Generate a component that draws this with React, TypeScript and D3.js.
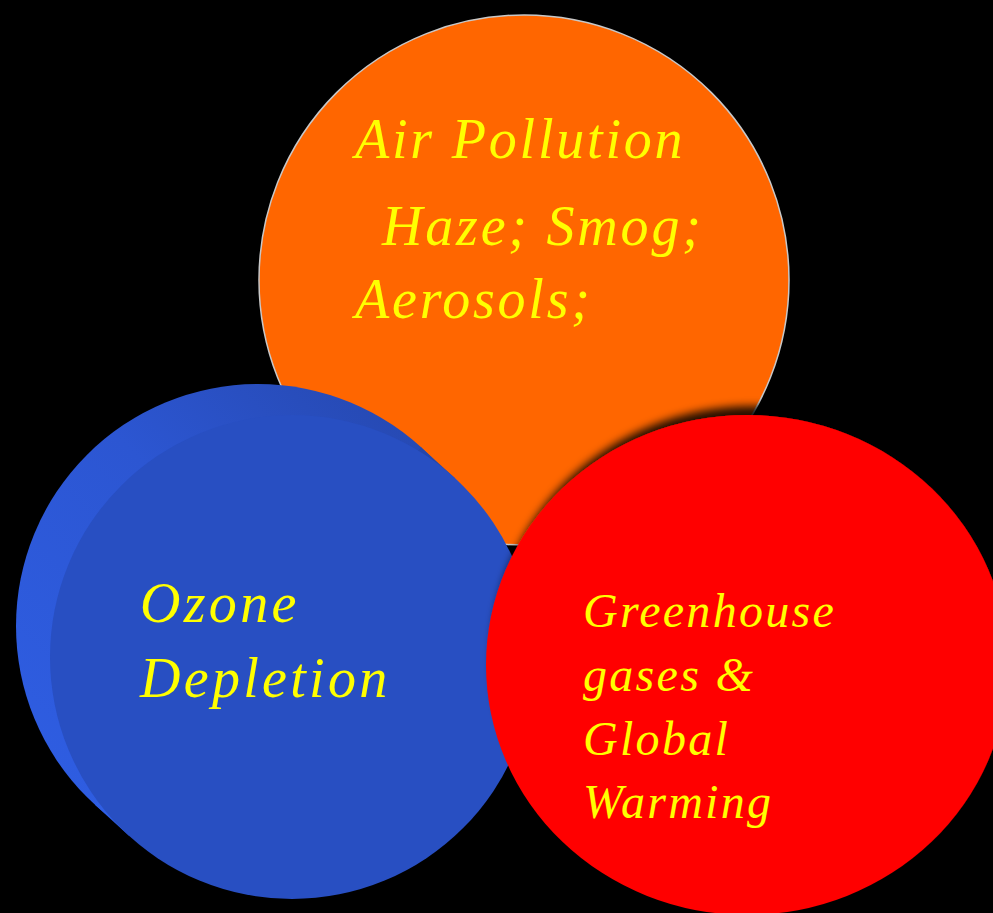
import * as d3 from 'd3'
import React, { useEffect, useRef } from 'react'

const W = 993
const H = 913

// the three topics, back to front
const topics = ['air', 'ozone', 'greenhouse']
const topicColors = ['#ff6600', '#284fc2', '#ff0000']
const airLines = ['Air Pollution', 'Haze; Smog;', 'Aerosols;']
const ozoneLines = ['Ozone', 'Depletion']
const greenLines = ['Greenhouse', 'gases &', 'Global', 'Warming']

export default function App() {
  const ref = useRef(null)

  useEffect(() => {
    const svg = d3.select(ref.current)
    svg.selectAll('*').remove()
    draw(svg)
  }, [])

  return (
    <svg
      ref={ref}
      width={W}
      height={H}
      style={{ position: 'absolute', left: 0, top: 0, background: '#000' }}
    />
  )
}

const draw = svg => {
  const defs = svg.append('defs')

  const shadow = defs
    .append('filter')
    .attr('id', 'redShadow')
    .attr('x', '-20%')
    .attr('y', '-20%')
    .attr('width', '140%')
    .attr('height', '140%')
  shadow
    .append('feDropShadow')
    .attr('dx', 6)
    .attr('dy', -9)
    .attr('stdDeviation', 4.5)
    .attr('flood-color', '#000')
    .attr('flood-opacity', 0.85)

  const rimGrad = defs
    .append('linearGradient')
    .attr('id', 'rim')
    .attr('x1', 0)
    .attr('y1', 1)
    .attr('x2', 1)
    .attr('y2', 0)
  rimGrad.append('stop').attr('offset', '0%').attr('stop-color', '#2f5fe6')
  rimGrad.append('stop').attr('offset', '55%').attr('stop-color', '#2c56d2')
  rimGrad.append('stop').attr('offset', '100%').attr('stop-color', '#2444a6')

  const color = d3.scaleOrdinal().domain(topics).range(topicColors)

  svg.append('rect').attr('width', W).attr('height', H).attr('fill', '#000')

  const font = "'Liberation Serif', 'Times New Roman', serif"
  const addLines = (g, lines, xs, ys, size, spacing) => {
    const t = g
      .append('text')
      .attr('fill', '#ffff00')
      .attr('font-family', font)
      .attr('font-style', 'italic')
      .attr('font-size', size)
      .attr('letter-spacing', spacing)
    t.selectAll('tspan')
      .data(lines)
      .join('tspan')
      .attr('x', (d, i) => xs[i])
      .attr('y', (d, i) => ys[i])
      .text(d => d)
  }

  // air pollution (orange, back)
  const air = svg.append('g')
  air
    .append('circle')
    .attr('cx', 524)
    .attr('cy', 280)
    .attr('r', 265)
    .attr('fill', color('air'))
    .attr('stroke', '#c8c8c8')
    .attr('stroke-width', 1.5)
  addLines(air, airLines, [355, 382, 355], [158, 245, 318], 56, 2.8)

  // ozone depletion (blue disc with thickness)
  const oz = svg.append('g')
  const back = [258, 626]
  const front = [292, 657]
  const r = 242
  const ang = Math.atan2(front[1] - back[1], front[0] - back[0])
  const nx = -Math.sin(ang) * r
  const ny = Math.cos(ang) * r
  oz.append('circle')
    .attr('cx', back[0])
    .attr('cy', back[1])
    .attr('r', r)
    .attr('fill', 'url(#rim)')
  oz.append('path')
    .attr(
      'd',
      d3.line()([
        [back[0] + nx, back[1] + ny],
        [front[0] + nx, front[1] + ny],
        [front[0] - nx, front[1] - ny],
        [back[0] - nx, back[1] - ny]
      ]) + 'Z'
    )
    .attr('fill', 'url(#rim)')
  oz.append('circle')
    .attr('cx', front[0])
    .attr('cy', front[1])
    .attr('r', r)
    .attr('fill', color('ozone'))
  addLines(oz, ozoneLines, [140, 140], [622, 697], 56, 3.3)

  // greenhouse (red, front)
  const gh = svg.append('g')
  gh.append('ellipse')
    .attr('cx', 747)
    .attr('cy', 665)
    .attr('rx', 261)
    .attr('ry', 250)
    .attr('fill', color('greenhouse'))
    .attr('filter', 'url(#redShadow)')
  addLines(gh, greenLines, [583, 583, 583, 583], [627, 691, 755, 818], 48, 2.3)
}
